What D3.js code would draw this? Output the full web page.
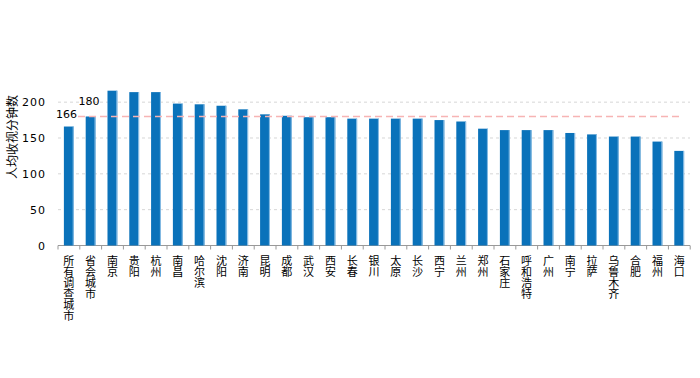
<!DOCTYPE html>
<html>
  <head>
    <meta charset="utf-8">
    <title>人均收视分钟数</title>
    <script src="https://d3js.org/d3.v7.min.js"></script>
    <style>
      body { margin: 0; background: #fff; }
      text { font-family: "Noto Sans CJK SC", "DejaVu Sans", sans-serif; fill: #000; }
      .tick text { font-family: "DejaVu Sans", sans-serif; font-size: 11px; letter-spacing: 1px; }
    </style>
  </head>
  <body>
    <svg width="700" height="378" class="chart"></svg>
    <script>
      var cities = ['所有调查城市', '省会城市', '南京', '贵阳', '杭州', '南昌', '哈尔滨', '沈阳', '济南', '昆明',
                    '成都', '武汉', '西安', '长春', '银川', '太原', '长沙', '西宁', '兰州', '郑州',
                    '石家庄', '呼和浩特', '广州', '南宁', '拉萨', '乌鲁木齐', '合肥', '福州', '海口'];
      var minutes = [166, 180, 216, 214, 214, 198, 197, 195, 190, 183,
                     181, 179, 179, 177, 177, 177, 177, 175, 173, 163,
                     161, 161, 161, 157, 155, 152, 152, 145, 132];
      var yTicks = [0, 50, 100, 150, 200];
      var refValue = 180;

      var svg = d3.select('svg.chart');
      var left = 58, right = 690, bottom = 245.5;

      var x = d3.scaleBand().domain(cities).range([left, right]).paddingInner(0.55).paddingOuter(0.27);
      var y = d3.scaleLinear().domain([0, 300]).range([bottom, bottom - 300 * 0.7167]);

      // grid
      svg.append('g').selectAll('line')
        .data(yTicks.slice(1))
        .enter().append('line')
        .attr('x1', left).attr('x2', right)
        .attr('y1', function(d) { return y(d); })
        .attr('y2', function(d) { return y(d); })
        .attr('stroke', '#d6d6d6').attr('stroke-dasharray', '3,3');

      // y axis labels (no line)
      var ya = svg.append('g').attr('transform', 'translate(' + (left - 8) + ',0)')
        .call(d3.axisLeft(y).tickValues(yTicks).tickSize(0).tickPadding(4));
      ya.select('.domain').remove();

      // x axis with ticks at band boundaries
      svg.append('line').attr('x1', left).attr('x2', right)
        .attr('y1', bottom).attr('y2', bottom).attr('stroke', '#999');
      var step = x.step();
      svg.append('g').selectAll('line')
        .data(d3.range(cities.length + 1))
        .enter().append('line')
        .attr('x1', function(i) { return left + i * step; })
        .attr('x2', function(i) { return left + i * step; })
        .attr('y1', bottom).attr('y2', bottom + 4)
        .attr('stroke', '#999');

      // bars
      var bars = svg.append('g').selectAll('g')
        .data(cities)
        .enter().append('g');
      bars.append('rect')
        .attr('x', function(d) { return x(d); })
        .attr('y', function(d, i) { return y(minutes[i]); })
        .attr('width', x.bandwidth())
        .attr('height', function(d, i) { return bottom - y(minutes[i]); })
        .attr('fill', '#0a72ba');
      bars.append('rect')
        .attr('x', function(d) { return x(d) + x.bandwidth() - 1; })
        .attr('y', function(d, i) { return y(minutes[i]); })
        .attr('width', 1)
        .attr('height', function(d, i) { return bottom - y(minutes[i]); })
        .attr('fill', '#8ec0e6');

      // reference line
      svg.append('line')
        .attr('x1', 78).attr('x2', 681)
        .attr('y1', y(refValue)).attr('y2', y(refValue))
        .attr('stroke', '#f7b4b4').attr('stroke-width', 1.3)
        .attr('stroke-dasharray', '7,4');

      svg.append('text').attr('x', 77).attr('y', y(refValue) + 2)
        .attr('text-anchor', 'end').style('font-family', 'DejaVu Sans, sans-serif')
        .style('font-size', '11px').text(minutes[0]);
      svg.append('text').attr('x', 89).attr('y', y(refValue) - 11)
        .attr('text-anchor', 'middle').style('font-family', 'DejaVu Sans, sans-serif')
        .style('font-size', '11px').text(minutes[1]);

      // x labels, vertical
      svg.append('g').selectAll('text')
        .data(cities)
        .enter().append('text')
        .attr('x', function(d) { return x(d) + x.bandwidth() / 2; })
        .attr('y', bottom + 10)
        .style('writing-mode', 'vertical-rl')
        .style('font-size', '11px')
        .text(function(d) { return d; });

      // y title
      svg.append('text')
        .attr('transform', 'translate(17,137) rotate(-90)')
        .attr('text-anchor', 'middle')
        .style('font-size', '12px')
        .text('人均收视分钟数');
    </script>
  </body>
</html>
